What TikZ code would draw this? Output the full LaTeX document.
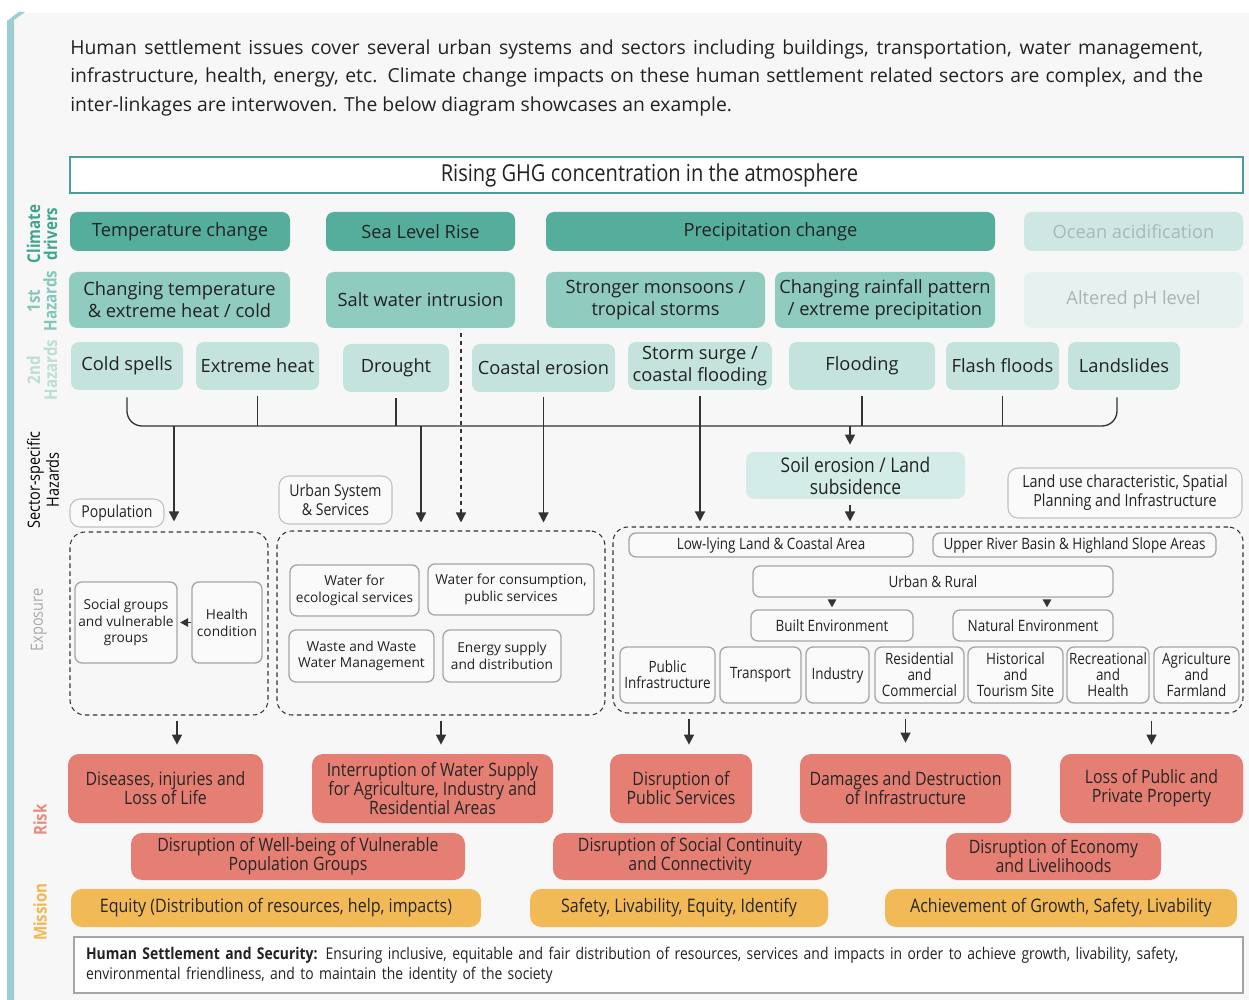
\documentclass[tikz,border=0pt]{standalone}
\usepackage{fontspec}
\setmainfont{Open Sans}
\newfontfamily\condf[FakeStretch=0.86]{Open Sans}
\usetikzlibrary{arrows.meta,calc}
\definecolor{txt}{HTML}{222222}
\definecolor{cdc}{HTML}{55AE9C}
\definecolor{cdl}{HTML}{CFE7E3}
\definecolor{cdlt}{HTML}{A7B8B5}
\definecolor{honec}{HTML}{8FCBBF}
\definecolor{honel}{HTML}{E7F1EF}
\definecolor{honelt}{HTML}{A9B5B3}
\definecolor{htwoc}{HTML}{C3E3DC}
\definecolor{soilc}{HTML}{D4ECE8}
\definecolor{gb}{HTML}{A5A5A5}
\definecolor{wf}{HTML}{FAFAFA}
\definecolor{dk}{HTML}{333333}
\definecolor{riskc}{HTML}{E57F74}
\definecolor{misc}{HTML}{F2BA57}
\definecolor{barc}{HTML}{9DCCD1}
\definecolor{bgc}{HTML}{F7F7F7}
\definecolor{ghgc}{HTML}{4E9C99}
\definecolor{lcd}{HTML}{3FA58E}
\definecolor{lho}{HTML}{82C7B8}
\definecolor{lht}{HTML}{BBDED6}
\definecolor{lexp}{HTML}{AAAAAA}
\definecolor{lrisk}{HTML}{EB8B80}
\definecolor{lmis}{HTML}{F4B64E}
\newcommand\parafont{\fontsize{11}{16.4}\selectfont}
\newcommand\rowfont{\fontsize{10.4}{12.5}\selectfont}
\newcommand\ghgfont{\condf\fontsize{13.3}{14}\selectfont}
\newcommand\soilfont{\condf\fontsize{11.5}{12.5}\selectfont}
\newcommand\lblfont{\condf\fontsize{9.3}{10.8}\selectfont}
\newcommand\lulfont{\condf\fontsize{9.5}{10.8}\selectfont}
\newcommand\efont{\fontsize{7.8}{9.6}\selectfont}
\newcommand\lfont{\condf\fontsize{8.9}{9.1}\selectfont}
\newcommand\riskfont{\condf\fontsize{10.5}{10.8}\selectfont\lineskiplimit=-20pt}
\newcommand\misfont{\condf\fontsize{10.6}{11}\selectfont}
\newcommand\hssfont{\condf\fontsize{9.2}{11.3}\selectfont}
\newcommand\rlabb{\condf\bfseries\fontsize{10}{9.6}\selectfont}
\newcommand\rlabr{\condf\fontsize{9.6}{10.8}\selectfont}
\newcommand\BX[7]{\node[#2, minimum width={(#5-#3)*0.02cm}, minimum height={(#6-#4)*0.02cm}] (#1) at ({(#3+#5)/2},{(#4+#6)/2}) {#7};}
\tikzset{
 bxbase/.style={align=center, inner sep=1pt, text=txt, font=\rowfont},
 cd/.style={bxbase, fill=cdc, rounded corners=0.16cm},
 cdlight/.style={cd, fill=cdl, text=cdlt},
 hone/.style={bxbase, fill=honec, rounded corners=0.16cm},
 honelight/.style={hone, fill=honel, text=honelt},
 htwo/.style={bxbase, fill=htwoc, rounded corners=0.16cm},
 soilbox/.style={bxbase, fill=soilc, rounded corners=0.16cm, font=\soilfont},
 ghgbox/.style={bxbase, draw=ghgc, line width=1.1pt, fill=white, font=\ghgfont},
 lbl/.style={bxbase, draw=gb!70, fill=wf, rounded corners=0.2cm, line width=0.6pt, font=\lblfont},
 ebox/.style={bxbase, draw=gb, fill=wf, rounded corners=0.14cm, line width=0.75pt, font=\efont},
 lbox/.style={ebox, font=\lfont},
 contbox/.style={draw=dk, dash pattern=on 0.09cm off 0.07cm, rounded corners=0.3cm, line width=0.6pt},
 riskbox/.style={bxbase, fill=riskc, rounded corners=0.22cm, font=\riskfont, text=black!85},
 misbox/.style={bxbase, fill=misc, rounded corners=0.22cm, font=\misfont, text=black!85},
 hssbox/.style={bxbase, draw=gb, fill=white, line width=0.8pt, font=\hssfont, align=left, text width=22.9cm, inner sep=0.2cm},
 rlab/.style={rotate=90, align=center, inner sep=0pt},
 conn/.style={draw=dk, line width=0.75pt},
 arr/.style={conn, -{Triangle[width=0.2cm,length=0.2cm]}},
 sarr/.style={conn, -{Triangle[width=0.17cm,length=0.16cm]}},
}
\begin{document}
\begin{tikzpicture}[x=0.02cm,y=-0.02cm]
\useasboundingbox (0,0) rectangle (1249,1000);
\fill[white] (0,0) rectangle (1249,1000);
\fill[bgc] (12,13) rectangle (1249,1000);
\fill[barc] (7,1000) -- (7,21) -- (19,12) -- (25,12) -- (14,20) -- (14,1000) -- cycle;

\node[anchor=north west, text width=22.66cm, align=justify, inner sep=0pt, font=\parafont, text=txt] (intro) at (70,39)
{\hyphenpenalty=10000 Human settlement issues cover several urban systems and sectors including buildings, transportation, water management,\linebreak infrastructure, health, energy, etc. Climate change impacts on these human settlement related sectors are complex, and the\linebreak inter-linkages are interwoven. The below diagram showcases an example.};

\BX{ghg}{ghgbox}{70}{157}{1243}{193}{Rising GHG concentration in the atmosphere\hspace*{0.28cm}}

% row labels
\node[rlab, text=lcd, font=\rlabb] (lclim) at (42,234) {Climate\\drivers};
\node[rlab, text=lho, font=\rlabb] (lhon) at (42,301) {1st\\Hazards};
\node[rlab, text=lht, font=\rlabb] (lhtn) at (42,370) {2nd\\Hazards};
\node[rlab, text=black, font=\rlabr] (lsec) at (43,480) {Sector-specific\\Hazards};
\node[rlab, text=lexp, font=\rlabr] (lexpn) at (39,620) {Exposure};
\node[rlab, text=lrisk, font=\rlabb] (lriskn) at (40,820) {Risk};
\node[rlab, text=lmis, font=\rlabb] (lmisn) at (40,912) {Mission};

% climate drivers
\BX{tc}{cd}{70}{212}{290}{251}{Temperature change}
\BX{slr}{cd}{326}{212}{515}{251}{Sea Level Rise}
\BX{pc}{cd}{546}{212}{995}{251}{Precipitation change}
\BX{oa}{cdlight}{1024}{212}{1243}{251}{Ocean acidification}

% 1st hazards
\BX{ct}{hone}{69}{272}{290}{328}{Changing temperature\\\& extreme heat / cold}
\BX{saltw}{hone}{326}{272}{515}{328}{Salt water intrusion}
\BX{smon}{hone}{546}{272}{765}{328}{Stronger monsoons /\\tropical storms}
\BX{crp}{hone}{775}{272}{995}{328}{Changing rainfall pattern\\/ extreme precipitation}
\BX{aph}{honelight}{1024}{272}{1243}{328}{Altered pH level}

% 2nd hazards
\BX{cold}{htwo}{71}{342}{183}{390}{Cold spells}
\BX{xheat}{htwo}{196}{342}{319}{390}{Extreme heat}
\BX{drought}{htwo}{343}{344}{449}{392}{Drought}
\BX{coast}{htwo}{472}{344}{615}{392}{Coastal erosion}
\BX{storm}{htwo}{628}{342}{772}{390}{Storm surge /\\coastal flooding}
\BX{flood}{htwo}{789}{342}{935}{390}{Flooding}
\BX{flash}{htwo}{946}{342}{1059}{390}{Flash floods}
\BX{lands}{htwo}{1068}{342}{1180}{390}{Landslides}

% sector specific
\BX{soil}{soilbox}{746}{452}{965}{499}{Soil erosion / Land\\subsidence}
\BX{popl}{lbl}{70}{499}{164}{527}{Population}
\BX{usl}{lbl}{279}{476}{392}{524}{Urban System\\\& Services}
\BX{lul}{lbl, font=\lulfont}{1008}{468}{1242}{518}{Land use characteristic, Spatial\\Planning and Infrastructure}

% exposure containers
\BX{popbox}{contbox}{70}{532}{268}{715}{}
\BX{urbbox}{contbox}{277}{531}{605}{715}{}
\BX{landbox}{contbox}{613}{527}{1243}{713}{}

\BX{social}{ebox}{75}{582}{177}{663}{Social groups\\and vulnerable\\groups}
\BX{health}{ebox}{192}{582}{262}{663}{Health\\condition}

\BX{wes}{ebox}{290}{565}{419}{616}{Water for\\ecological services}
\BX{wcp}{ebox}{428}{564}{594}{615}{Water for consumption,\\public services}
\BX{wwm}{ebox}{289}{630}{434}{682}{Waste and Waste\\Water Management}
\BX{esd}{ebox}{443}{630}{561}{682}{Energy supply\\and distribution}

\BX{lowl}{lbox}{629}{533}{913}{557}{Low-lying Land \& Coastal Area}
\BX{upr}{lbox}{933}{533}{1216}{557}{Upper River Basin \& Highland Slope Areas}
\BX{ur}{lbox}{753}{566}{1113}{597}{Urban \& Rural}
\BX{built}{lbox}{751}{610}{913}{641}{Built Environment}
\BX{natural}{lbox}{953}{610}{1113}{641}{Natural Environment}
\BX{pubi}{lbox}{620}{647}{715}{703}{Public\\Infrastructure}
\BX{trans}{lbox}{720}{647}{801}{703}{Transport}
\BX{ind}{lbox}{806}{647}{869}{703}{Industry}
\BX{resc}{lbox}{875}{647}{964}{703}{Residential\\and\\Commercial}
\BX{hist}{lbox}{968}{647}{1063}{703}{Historical\\and\\Tourism Site}
\BX{recr}{lbox}{1067}{647}{1149}{703}{Recreational\\and\\Health}
\BX{agri}{lbox}{1154}{647}{1239}{703}{Agriculture\\and\\Farmland}

% risk
\BX{dis}{riskbox}{68}{754}{263}{823}{Diseases, injuries and\\Loss of Life}
\BX{iws}{riskbox}{312}{754}{553}{823}{Interruption of Water Supply\\for Agriculture, Industry and\\Residential Areas}
\BX{dps}{riskbox}{610}{754}{752}{823}{Disruption of\\Public Services}
\BX{ddi}{riskbox}{800}{754}{1011}{823}{Damages and Destruction\\of Infrastructure}
\BX{lpp}{riskbox}{1060}{754}{1243}{823}{Loss of Public and\\Private Property}
\BX{dwb}{riskbox}{131}{833}{465}{880}{Disruption of Well-being of Vulnerable\\Population Groups}
\BX{dsc}{riskbox}{553}{833}{827}{880}{Disruption of Social Continuity\\and Connectivity}
\BX{dec}{riskbox}{946}{833}{1161}{880}{Disruption of Economy\\and Livelihoods}

% mission
\BX{meq}{misbox}{71}{889}{481}{927}{Equity (Distribution of resources, help, impacts)}
\BX{msl}{misbox}{530}{889}{828}{927}{Safety, Livability, Equity, Identify}
\BX{mag}{misbox}{885}{889}{1237}{927}{Achievement of Growth, Safety, Livability}

\BX{hss}{hssbox}{74}{937}{1243}{993}{\textbf{Human Settlement and Security:} Ensuring inclusive, equitable and fair distribution of resources, services and impacts in order to achieve growth, livability, safety,\\environmental friendliness, and to maintain the identity of the society}

% connectors: bus
\coordinate (busY) at (0,426);
\draw[conn, rounded corners=0.3cm] ([yshift=-0.14cm]cold.south) -- (cold.south |- busY) -- ([xshift=-0.14cm]lands.south |- busY) -- ([xshift=-0.14cm,yshift=-0.14cm]lands.south);
\foreach \n in {xheat,drought,storm,flood,flash}
  \draw[conn] ([yshift=-0.12cm]\n.south) -- (\n.south |- busY);

\coordinate (bpop) at (174,426);
\draw[arr, shorten >=0.2cm] (bpop) -- (bpop |- popbox.north);
\coordinate (burb) at (421,426);
\draw[arr, shorten >=0.16cm] (burb) -- (burb |- urbbox.north);
\coordinate (dsh) at (461,333);
\draw[arr, dash pattern=on 0.09cm off 0.07cm, shorten >=0.16cm] (dsh) -- (dsh |- urbbox.north);
\draw[arr, shorten >=0.16cm] ([yshift=-0.1cm]coast.south) -- (coast.south |- urbbox.north);
\draw[arr, shorten >=0.1cm] (storm.south |- busY) -- (storm.south |- landbox.north);
\coordinate (bsoil) at (850,426);
\draw[arr, shorten >=0.14cm] (bsoil) -- (bsoil |- soil.north);
\draw[arr, shorten <=0.12cm, shorten >=0.1cm] (bsoil |- soil.south) -- (bsoil |- landbox.north);

% exposure internal
\draw[sarr, shorten >=0.05cm] (health.west) -- (social.east);
\draw[sarr, shorten <=0.04cm, shorten >=0.04cm] (built.north |- ur.south) -- (built.north);
\coordinate (natx) at (1047,0);
\draw[sarr, shorten <=0.04cm, shorten >=0.04cm] (natx |- ur.south) -- (natx |- natural.north);

% exposure to risk
\coordinate (ax1) at (177,0);
\draw[arr, shorten <=0.1cm, shorten >=0.18cm] (ax1 |- popbox.south) -- (ax1 |- dis.north);
\draw[arr, shorten <=0.1cm, shorten >=0.18cm] (urbbox.south) -- (urbbox.south |- iws.north);
\coordinate (ax3) at (689,0);
\draw[arr, shorten <=0.1cm, shorten >=0.18cm] (ax3 |- landbox.south) -- (ax3 |- dps.north);
\draw[arr, shorten <=0.1cm, shorten >=0.22cm] (ddi.north |- landbox.south) -- (ddi.north);
\draw[arr, shorten <=0.14cm, shorten >=0.18cm] (lpp.north |- landbox.south) -- (lpp.north);
\end{tikzpicture}
\end{document}
